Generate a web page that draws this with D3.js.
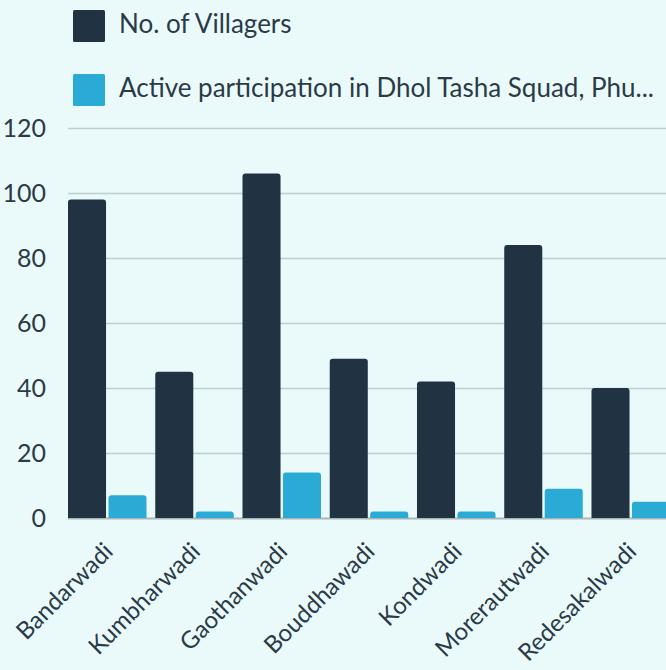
<!DOCTYPE html>
<html>
<head>
<meta charset="utf-8">
<script src="https://cdn.jsdelivr.net/npm/d3@7"></script>
<style>
  html, body { margin: 0; padding: 0; background: #eafafa; }
  svg { display: block; font-family: "Lato", "Open Sans", sans-serif; }
</style>
</head>
<body>
<div id="chart"></div>
<script>
/////////////////////
// Data
/////////////////////

var villages = ["Bandarwadi", "Kumbharwadi", "Gaothanwadi", "Bouddhawadi",
                "Kondwadi", "Morerautwadi", "Redesakalwadi"];
var villagers = [98, 45, 106, 49, 42, 84, 40];
var participation = [7, 2, 14, 2, 2, 9, 5];
var seriesNames = ["No. of Villagers", "Active participation in Dhol Tasha Squad, Phu..."];
var yTicks = [0, 20, 40, 60, 80, 100, 120];

var colors = ["#213343", "#2aabd5"];
var textColor = "#2b3a47";

/////////////////////
// Setup
/////////////////////

var width = 666, height = 670;
var x0 = 68, x1 = 670, yTop = 128, yBottom = 518;

var svg = d3.select("#chart").append("svg")
    .attr("width", width)
    .attr("height", height);

svg.append("rect")
    .attr("width", width)
    .attr("height", height)
    .attr("fill", "#eafafa");

var x = d3.scaleBand()
    .domain(villages)
    .range([x0, x1])
    .paddingInner(0.1)
    .paddingOuter(0);

var xs = d3.scaleBand()
    .domain([0, 1])
    .range([0, x.bandwidth()])
    .paddingInner(0.06);

var y = d3.scaleLinear()
    .domain([0, 120])
    .range([yBottom, yTop]);

// gridlines

svg.append("g")
    .selectAll("line")
    .data(yTicks)
  .enter().append("line")
    .attr("x1", x0)
    .attr("x2", width)
    .attr("y1", function(d) { return y(d) + 0.5; })
    .attr("y2", function(d) { return y(d) + 0.5; })
    .attr("stroke", function(d) { return d === 0 ? "#a9b6b8" : "#bccfd0"; })
    .attr("stroke-width", function(d) { return d === 0 ? 2 : 1.5; });

// y labels

svg.append("g")
    .selectAll("text")
    .data(yTicks)
  .enter().append("text")
    .attr("x", 46)
    .attr("y", function(d) { return y(d); })
    .attr("dy", "0.36em")
    .attr("text-anchor", "end")
    .attr("font-size", 25)
    .attr("fill", textColor)
    .text(function(d) { return d; });

/////////////////////
// Bars
/////////////////////

function topRounded(bx, by, bw, bh, r) {
    r = Math.min(r, bh, bw / 2);
    return "M" + bx + "," + (by + bh) +
        "V" + (by + r) +
        "Q" + bx + "," + by + " " + (bx + r) + "," + by +
        "H" + (bx + bw - r) +
        "Q" + (bx + bw) + "," + by + " " + (bx + bw) + "," + (by + r) +
        "V" + (by + bh) + "Z";
}

var rows = villages.map(function(v, i) {
    return {village: v, values: [villagers[i], participation[i]]};
});

var groups = svg.append("g")
    .selectAll("g")
    .data(rows)
  .enter().append("g")
    .attr("transform", function(d) { return "translate(" + x(d.village) + ",0)"; });

groups.selectAll("path")
    .data(function(d) { return d.values.map(function(v, k) { return {k: k, v: v}; }); })
  .enter().append("path")
    .attr("d", function(d) {
        return topRounded(xs(d.k), y(d.v), xs.bandwidth(), yBottom - y(d.v), 3);
    })
    .attr("fill", function(d) { return colors[d.k]; });

// x labels

svg.append("g")
    .selectAll("text")
    .data(villages)
  .enter().append("text")
    .attr("transform", function(d) {
        return "translate(" + (x(d) + x.bandwidth() / 2 + 7) + ",553) rotate(-45)";
    })
    .attr("text-anchor", "end")
    .attr("font-size", 24)
    .attr("fill", textColor)
    .text(function(d) { return d; });

/////////////////////
// Legend
/////////////////////

var legend = svg.append("g")
    .selectAll("g")
    .data(seriesNames)
  .enter().append("g")
    .attr("transform", function(d, i) { return "translate(73," + (10 + i * 64) + ")"; });

legend.append("rect")
    .attr("width", 32)
    .attr("height", 32)
    .attr("rx", 1.5)
    .attr("fill", function(d, i) { return colors[i]; });

legend.append("text")
    .attr("x", 46)
    .attr("y", 23)
    .attr("font-size", 26)
    .attr("fill", textColor)
    .text(function(d) { return d; });
</script>
</body>
</html>
